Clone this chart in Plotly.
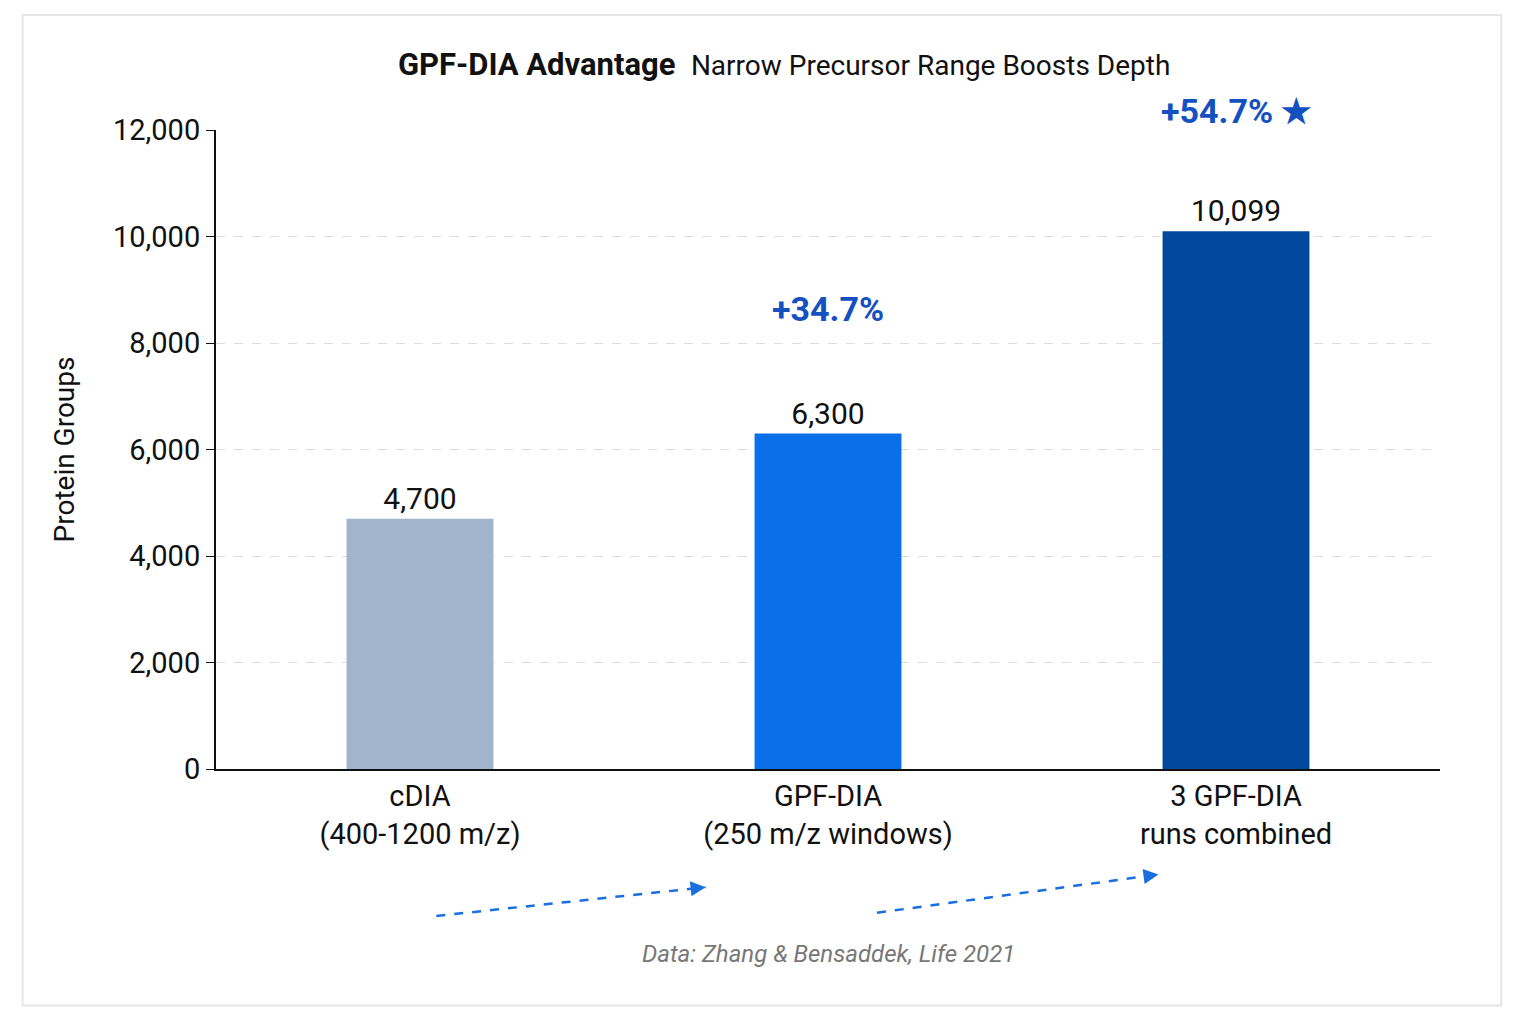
import plotly.graph_objects as go

categories = ["cDIA<br>(400-1200 m/z)", "GPF-DIA<br>(250 m/z windows)", "3 GPF-DIA<br>runs combined"]
protein_groups = [4700, 6300, 10099]
bar_colors = ["#a0b4cc", "#0a6fe8", "#00479e"]
gains = ["", "+34.7%", "+54.7% ★"]

fig = go.Figure(go.Bar(
    x=categories, y=protein_groups,
    marker=dict(color=bar_colors, line=dict(width=0)),
    width=0.36,
    text=[f"{v:,}" for v in protein_groups],
    textposition="outside",
    textfont=dict(size=30, color="#111"),
    cliponaxis=False,
))

for cat, v, g in zip(categories, protein_groups, gains):
    if g:
        fig.add_annotation(x=cat, y=v, text=f"<b>{g}</b>", showarrow=False,
                           yshift=120 if "★" in g else 125, xshift=0,
                           font=dict(size=34, color="#1450c0"))

# dashed progression arrows
for x0, y0, x1, y1 in [(0.18, -0.23, 0.4, -0.185), (0.54, -0.225, 0.77, -0.165)]:
    fig.add_shape(type="line", xref="x domain", yref="y domain", x0=x0, y0=y0, x1=x1, y1=y1,
                  line=dict(color="#1a6fe0", width=2.5, dash="dash"))
    fig.add_annotation(xref="x domain", yref="y domain", axref="x domain", ayref="y domain",
                       x=x1, y=y1, ax=x1 - (x1 - x0) * 0.05, ay=y1 - (y1 - y0) * 0.05,
                       showarrow=True, arrowhead=2, arrowsize=1.2, arrowwidth=2.5,
                       arrowcolor="#1a6fe0", text="")

fig.add_annotation(xref="paper", yref="paper", x=0.5, y=-0.315, showarrow=False,
                   text="<i>Data: Zhang &amp; Bensaddek, Life 2021</i>",
                   font=dict(size=24, color="#777"))

fig.update_layout(
    title=dict(text="<b>GPF-DIA Advantage</b>  <span style='font-size:28px'>Narrow Precursor Range Boosts Depth</span>",
               x=0.515, xanchor="center", y=0.955, font=dict(size=31, color="#111")),
    font=dict(family="Roboto, Noto Sans, sans-serif", color="#111"),
    paper_bgcolor="white", plot_bgcolor="white",
    margin=dict(l=208, r=75, t=122, b=256),
    showlegend=False,
    bargap=0.64,
    yaxis=dict(range=[0, 12000], dtick=2000, tickformat=",", tickfont=dict(size=29),
               gridcolor="#dddddd", griddash="dash", showline=True, linecolor="#111",
               linewidth=2, ticks="outside", ticklen=8, tickcolor="#111",
               title=dict(text="Protein Groups", font=dict(size=28), standoff=30), zeroline=False),
    xaxis=dict(tickfont=dict(size=29), showline=True, linecolor="#111", linewidth=2),
)
fig.add_shape(type="rect", xref="paper", yref="paper", x0=-0.158, y0=-0.37, x1=1.05, y1=1.18,
              line=dict(color="#e6e6e6", width=2), layer="below")

fig.write_html("out.html")
